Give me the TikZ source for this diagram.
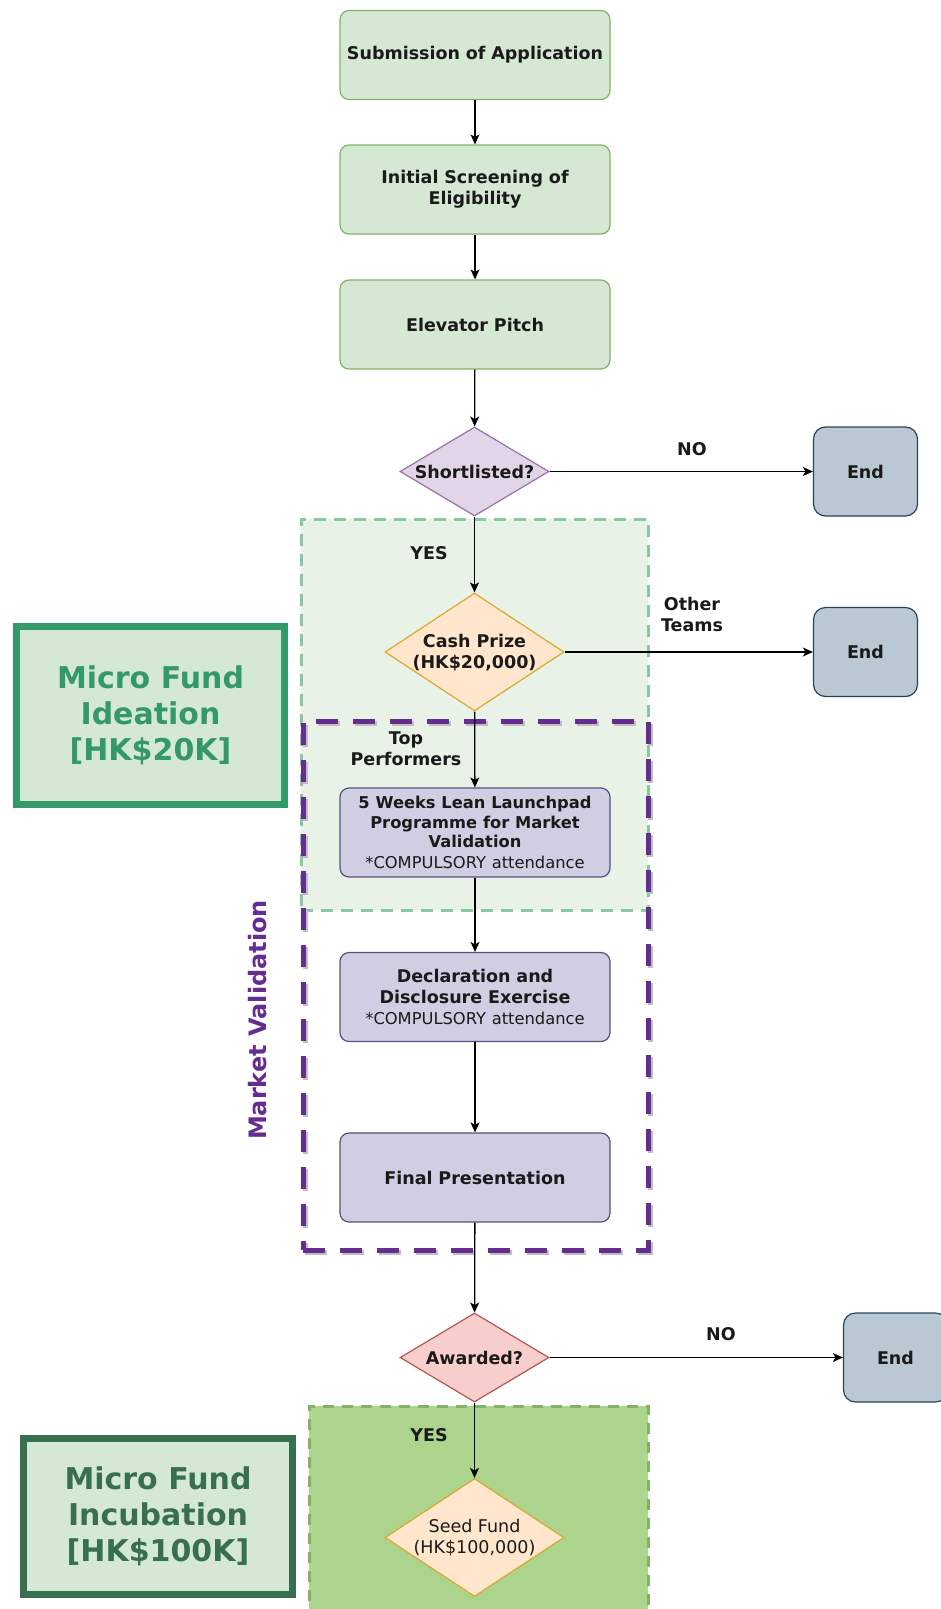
\documentclass[tikz,border=0pt]{standalone}
\usepackage{fontspec}
\setmainfont{DejaVu Sans}
\usetikzlibrary{shapes.geometric,arrows.meta}
\definecolor{gfill}{HTML}{D5E8D4}
\definecolor{gline}{HTML}{82B366}
\definecolor{pfill}{HTML}{E1D5E7}
\definecolor{pline}{HTML}{9673A6}
\definecolor{efill}{HTML}{BAC8D3}
\definecolor{eline}{HTML}{23445D}
\definecolor{ofill}{HTML}{FFE6CC}
\definecolor{oline}{HTML}{D9A92E}
\definecolor{lfill}{HTML}{D0CEE2}
\definecolor{lline}{HTML}{56517E}
\definecolor{rfill}{HTML}{F8CECC}
\definecolor{rline}{HTML}{B85450}
\definecolor{iregfill}{HTML}{E8F2E7}
\definecolor{iregline}{HTML}{88C9A3}
\definecolor{mvline}{HTML}{662D91}
\definecolor{idealine}{HTML}{339966}
\definecolor{incline}{HTML}{38704F}
\definecolor{incfill}{HTML}{ADD48C}
\definecolor{txt}{HTML}{1A1A1A}
\begin{document}
\begin{tikzpicture}[x=1pt,y=-1pt,
  bigfont/.style={font=\bfseries\fontsize{17.5}{21}\selectfont, text=txt},
  procbox/.style={rectangle, rounded corners=9pt, line width=1.2pt, minimum width=270pt, minimum height=89pt, align=center, text width=268pt, inner sep=0pt, bigfont},
  greenbox/.style={procbox, draw=gline, fill=gfill},
  lavbox/.style={procbox, draw=lline, fill=lfill},
  endbox/.style={rectangle, rounded corners=12pt, line width=1.2pt, draw=eline, fill=efill, minimum width=104pt, minimum height=89pt, inner sep=0pt, bigfont},
  decision/.style={diamond, inner sep=0pt, line width=1.2pt, minimum width=149pt, minimum height=89pt},
  bigdecision/.style={decision, minimum width=179pt, minimum height=118pt},
  edgelabel/.style={align=center, bigfont, inner sep=0pt},
  arr/.style={draw=black, line width=1.3pt, -{Stealth[length=10pt,width=9pt,inset=2.5pt]}},
  fundbox/.style={rectangle, line width=7pt, fill=gfill, align=center, inner sep=0pt, font=\bfseries\fontsize{30}{36}\selectfont}
]
\useasboundingbox (0,0) rectangle (940,1609);

% regions
\node[draw=iregline, fill=iregfill, line width=3pt, dash pattern=on 12pt off 8pt,
  minimum width=347pt, minimum height=391pt, inner sep=0pt] (ideareg) at (474.5,714.5) {};
\node[draw=gline, fill=incfill, line width=3pt, dash pattern=on 11pt off 8pt,
  minimum width=339pt, minimum height=240pt, inner sep=0pt] (increg) at (478.5,1526) {};
\node[draw=black!25, line width=5pt, dash pattern=on 22pt off 15pt,
  minimum width=345pt, minimum height=529pt, inner sep=0pt] (mvshadow) at (477.5,987.5) {};
\node[draw=mvline, line width=5pt, dash pattern=on 22pt off 15pt,
  minimum width=345pt, minimum height=529pt, inner sep=0pt] (mvreg) at (475.5,985.5) {};

% side labels
\node[fundbox, draw=idealine, text=idealine, minimum width=268pt, minimum height=178pt] (ideabox) at (150.5,715.5) {Micro Fund\\Ideation\\{[}HK\$20K{]}};
\node[fundbox, draw=incline, text=incline, minimum width=269pt, minimum height=156pt] (incbox) at (158,1516.5) {Micro Fund\\Incubation\\{[}HK\$100K{]}};
\node[rotate=90, text=mvline, font=\bfseries\fontsize{24}{28}\selectfont] (mvlabel) at (258,1020) {Market Validation};

% main column
\node[greenbox] (b1) at (475,55) {Submission of Application};
\node[greenbox] (b2) at (475,189.5) {Initial Screening of\\Eligibility};
\node[greenbox] (b3) at (475,324.5) {Elevator Pitch};
\node[decision, draw=pline, fill=pfill, label={[name=d1t, bigfont]center:Shortlisted?}] (d1) at (474.5,471.5) {};
\node[endbox] (e1) at (865.5,471.5) {End};
\node[bigdecision, draw=oline, fill=ofill, label={[name=d2t, bigfont, align=center, yshift=-1pt]center:Cash Prize\\(HK\$20,000)}] (d2) at (474.5,652) {};
\node[endbox] (e2) at (865.5,652) {End};
\node[lavbox] (b4) at (475,832.5) {{\fontsize{16.3}{19.5}\selectfont 5 Weeks Lean Launchpad\\Programme for Market\\Validation\\\mdseries *COMPULSORY attendance}};
\node[lavbox] (b5) at (475,997) {Declaration and\\Disclosure Exercise\\{\mdseries\fontsize{16.3}{19.5}\selectfont *COMPULSORY attendance}};
\node[lavbox] (b6) at (475,1177.5) {Final Presentation};
\node[decision, draw=rline, fill=rfill, label={[name=d3t, bigfont]center:Awarded?}] (d3) at (474.5,1357.5) {};
\node[endbox] (e3) at (895.5,1357.5) {End};
\node[bigdecision, draw=oline, fill=ofill, label={[name=d4t, align=center, text=txt, font=\fontsize{17.5}{21}\selectfont]center:Seed Fund\\(HK\$100,000)}] (d4) at (474.5,1537.5) {};

% connectors
\draw[arr] (b1) -- (b2);
\draw[arr] (b2) -- (b3);
\draw[arr] (b3) -- (d1);
\draw[arr] (d1) -- (e1);
\draw[arr] (d1) -- (d2);
\draw[arr] (d2) -- (e2);
\draw[arr] (d2) -- (b4);
\draw[arr] (b4) -- (b5);
\draw[arr] (b5) -- (b6);
\draw[arr] (b6) -- (d3);
\draw[arr] (d3) -- (e3);
\draw[arr] (d3) -- (d4);

% edge labels
\node[edgelabel] (lno1) at (692,449) {NO};
\node[edgelabel] (lyes1) at (429,553) {YES};
\node[edgelabel] (lother) at (692,614) {Other\\Teams};
\node[edgelabel] (ltop) at (406,749) {Top\\Performers};
\node[edgelabel] (lno2) at (721,1334) {NO};
\node[edgelabel] (lyes2) at (429,1435) {YES};
\end{tikzpicture}
\end{document}
